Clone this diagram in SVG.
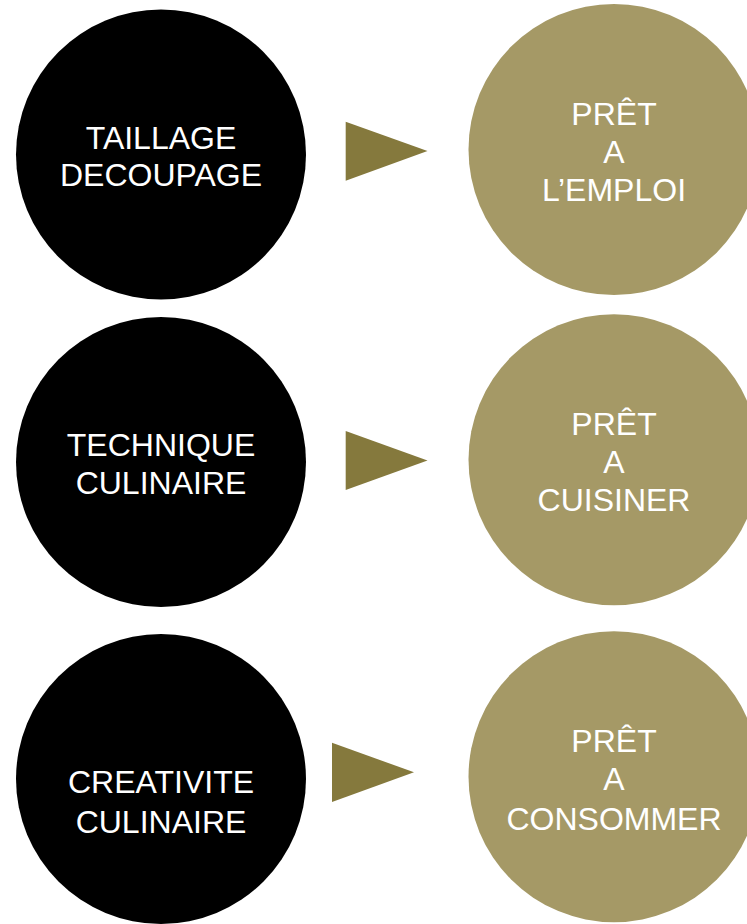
<svg xmlns="http://www.w3.org/2000/svg" width="747" height="924" viewBox="0 0 747 924">
<style>
.blk{fill:#000000}
.gold{fill:#A59966}
.arr{fill:#85793D}
text{font-family:"Liberation Sans",Arial,sans-serif;font-size:32px;fill:#FFFFFF;text-anchor:middle}
</style>
<rect width="747" height="924" fill="#FFFFFF"/>
<g id="n1"><circle class="blk" cx="161" cy="154.5" r="145"/>
<text x="161" y="148.5">TAILLAGE</text><text x="161" y="186">DECOUPAGE</text></g>
<g id="n2"><circle class="gold" cx="614" cy="149.5" r="145.5"/>
<text x="614" y="124.5">PRÊT</text><text x="614" y="162.5">A</text><text x="614" y="200.5">L’EMPLOI</text></g>
<g id="n3"><circle class="blk" cx="161" cy="462" r="145"/>
<text x="161" y="456">TECHNIQUE</text><text x="161" y="493.5">CULINAIRE</text></g>
<g id="n4"><circle class="gold" cx="614" cy="459.7" r="145.5"/>
<text x="614" y="434.5">PRÊT</text><text x="614" y="472.5">A</text><text x="614" y="511">CUISINER</text></g>
<g id="n5"><circle class="blk" cx="161" cy="779" r="145"/>
<text x="161" y="792.5">CREATIVITE</text><text x="161" y="832.5">CULINAIRE</text></g>
<g id="n6"><circle class="gold" cx="614" cy="776.7" r="145.5"/>
<text x="614" y="751.5">PRÊT</text><text x="614" y="790">A</text><text x="614" y="829.5">CONSOMMER</text></g>
<g id="connectors">
<polygon class="arr" points="345.7,121.7 345.7,180.7 427.5,151"/>
<polygon class="arr" points="345.7,431 345.7,490 427.5,460.5"/>
<polygon class="arr" points="332,742.7 332,802 414,772.3"/>
</g>
</svg>
